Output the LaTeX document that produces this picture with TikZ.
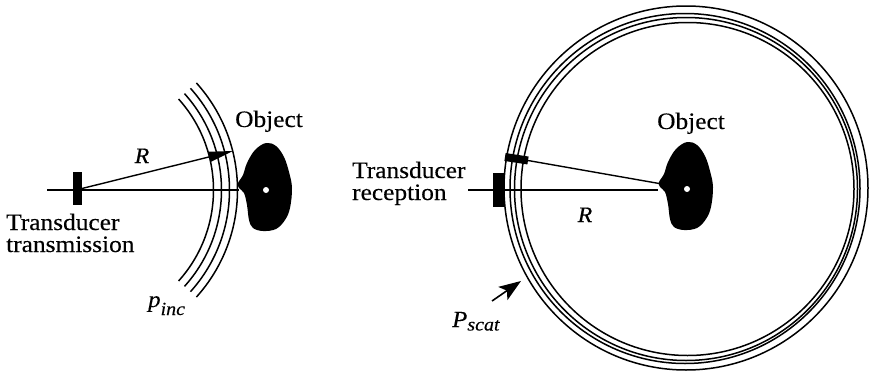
\documentclass[tikz,border=0pt]{standalone}
\usepackage{fontspec}
\setmainfont{Liberation Serif}[FakeStretch=1.08, FakeBold=0.3]
\usetikzlibrary{arrows.meta}
\begin{document}
\begin{tikzpicture}[x=1pt,y=-1pt,
  wave/.style={line width=1.5pt},
  axis/.style={line width=1.5pt},
  txbox/.style={fill=black},
  txt/.style={inner sep=0pt, anchor=base west, font=\fontsize{23.5}{23.5}\selectfont},
  sym/.style={inner sep=0pt, anchor=base, font=\fontsize{22}{22}\selectfont\itshape},
  wavelbl/.style={inner sep=0pt, anchor=base west, font=\fontsize{23}{23}\selectfont\itshape},
  pics/blob/.style={code={
    \fill[black] plot[smooth cycle, tension=0.6] coordinates {
      (-28,-7) (-23,-15) (-19,-27) (-11,-40) (0,-47) (10,-44) (18,-33)
      (23,-18) (26,-2) (24,18) (19,30) (10,39) (-3,41) (-13,38)
      (-17,30) (-19,15) (-22,3) (-27,-2)};
    \fill[white] (0,0) circle[radius=3pt];
  }},
]
\useasboundingbox (0,0) rectangle (870,375);

% ---------------- transmission ----------------
\coordinate (axL0) at (47,190);
\coordinate (axL1) at (239,190);
\coordinate (txL) at (77.5,190);
\coordinate (rfoot) at (80,189);
\coordinate (rtip) at (233,151);

\foreach \r in {136,144,152,160}
  \draw[wave] (txL) ++(-42:\r pt) arc[start angle=-42, end angle=42, radius=\r pt];

\draw[axis] (axL0) -- (axL1);
\fill[txbox] (73,172) rectangle (82,205);
\draw[line width=1.4pt, -{Triangle[length=24pt,width=10pt]}] (rfoot) -- (rtip);

\pic (objL) at (266,190) {blob};

\node[txt] (objLlbl) at (235,127) {Object};
\node[sym] (rL) at (142,163) {R};
\node[txt] (txLlbl1) at (6,230) {Transducer};
\node[txt] (txLlbl2) at (6,252) {transmission};
\node[wavelbl] (pinc) at (148,307) {p\raisebox{-8pt}{\fontsize{18.5}{18.5}\selectfont inc}};

% ---------------- reception ----------------
\draw[wave] (686,188) circle[radius=182pt];
\draw[wave] (685,188.5) circle[radius=175pt];
\draw[wave] (686,189) circle[radius=171.5pt];
\draw[wave] (687.5,189) circle[radius=166.5pt];

\coordinate (axR0) at (468,190);
\coordinate (axR1) at (658,190);
\coordinate (elemA) at (505,157);
\coordinate (elemB) at (528,160.5);
\coordinate (objEdge) at (662,184);

\draw[axis] (axR0) -- (axR1);
\fill[txbox] (493,173) rectangle (504,207);
\draw[line width=8pt] (elemA) -- (elemB);
\draw[line width=1.4pt] (elemB) -- (objEdge);

\pic (objR) at (687,189) {blob};

\node[txt] (objRlbl) at (657,129) {Object};
\node[sym] (rR) at (585,222) {R};
\node[txt] (txRlbl1) at (352,178) {Transducer};
\node[txt] (txRlbl2) at (352,200) {reception};
\node[wavelbl] (pscat) at (452,327) {P\raisebox{-3.5pt}{\fontsize{18.5}{18.5}\selectfont scat}};

\coordinate (pArrow0) at (492,301);
\coordinate (pArrow1) at (521,281);
\draw[line width=1.6pt, -{Stealth[length=22pt,width=16pt,inset=5pt]}] (pArrow0) -- (pArrow1);
\end{tikzpicture}
\end{document}
